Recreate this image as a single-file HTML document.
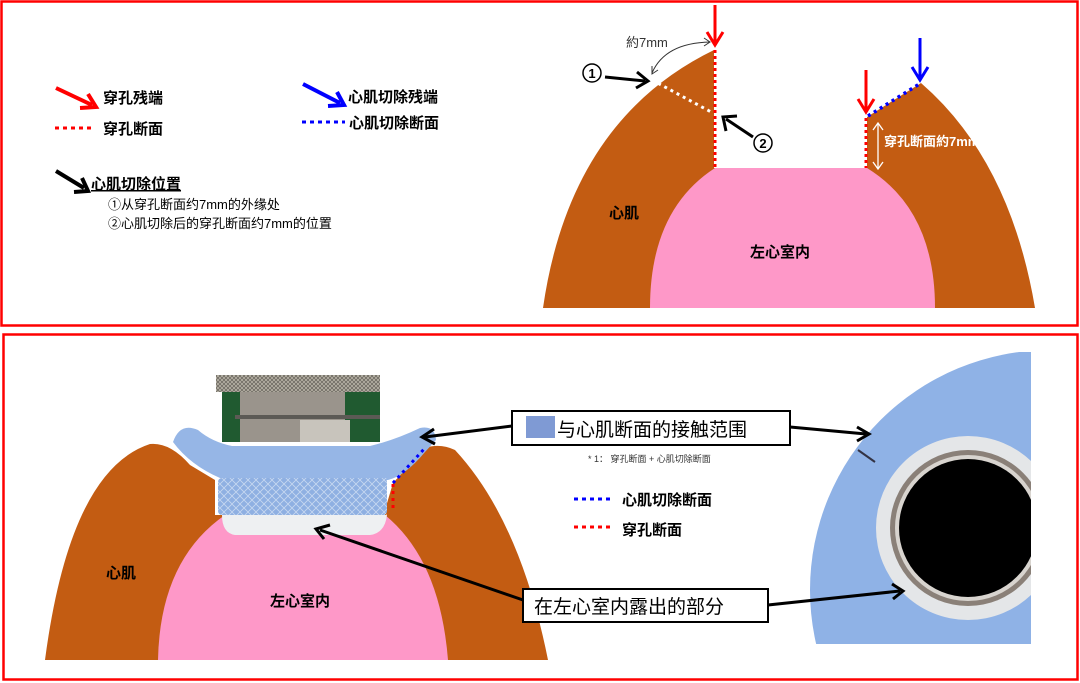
<!DOCTYPE html>
<html><head><meta charset="utf-8"><style>
html,body{margin:0;padding:0;background:#fff;width:1080px;height:683px;overflow:hidden;}
svg{display:block;font-family:"Liberation Sans","Noto Sans CJK SC",sans-serif;}
.b{font-weight:bold;}
</style></head><body>
<svg width="1080" height="683" viewBox="0 0 1080 683" xmlns="http://www.w3.org/2000/svg">
<defs>
<clipPath id="c1"><rect x="0" y="0" width="982" height="330"/></clipPath>
<clipPath id="c2"><rect x="800" y="352" width="231" height="292"/></clipPath>
<pattern id="mesh" width="8" height="8" patternUnits="userSpaceOnUse"><path d="M0,0 L8,8 M8,0 L0,8" stroke="#fff" stroke-opacity="0.5" stroke-width="0.8"/></pattern>
<pattern id="knurl" width="4" height="4" patternUnits="userSpaceOnUse"><rect width="4" height="4" fill="#b9b4a8"/><path d="M0,0 L4,4 M4,0 L0,4" stroke="#6e6a62" stroke-width="0.8"/></pattern>
</defs>
<rect x="1.5" y="1.5" width="1076" height="324" fill="none" stroke="#f00" stroke-width="2.5"/>
<rect x="3.5" y="334.5" width="1074" height="345" fill="none" stroke="#f00" stroke-width="2.5"/>

<path d="M543,308 Q570,120 714,50 L714,168 L867,168 L867,117 L921,83 Q1010,160 1035,308 Z" fill="#c35c12"/>
<path d="M650,308 Q650,210 715,168 L867,168 Q935,210 935,308 Z" fill="#fe98c8"/>
<line x1="652" y1="80" x2="713" y2="113" stroke="#fff" stroke-width="3" stroke-dasharray="3,4"/>
<line x1="715" y1="50" x2="715" y2="168" stroke="#f00" stroke-width="3" stroke-dasharray="3,3"/>
<line x1="866" y1="118" x2="866" y2="168" stroke="#f00" stroke-width="3" stroke-dasharray="3,3"/>
<line x1="868" y1="116" x2="921" y2="83" stroke="#00f" stroke-width="3.5" stroke-dasharray="3,4"/>
<line x1="715" y1="5" x2="715" y2="42" stroke="#f00" stroke-width="3"/>
<path d="M707,32 L715,45 L723,32" fill="none" stroke="#f00" stroke-width="3"/>
<line x1="866" y1="70" x2="866" y2="110" stroke="#f00" stroke-width="3"/>
<path d="M858,99 L866,112 L874,99" fill="none" stroke="#f00" stroke-width="3"/>
<line x1="920" y1="38" x2="920" y2="77" stroke="#00f" stroke-width="3"/>
<path d="M912,67 L920,80 L928,67" fill="none" stroke="#00f" stroke-width="3"/>
<path d="M652,73 Q665,43 710,42" fill="none" stroke="#333" stroke-width="1"/>
<path d="M652,66 L652,74 L658,70 M704,38 L710,42 L704,46" fill="none" stroke="#333" stroke-width="1"/>
<text x="626" y="47" font-size="13" fill="#333">約7mm</text>
<circle cx="592" cy="73" r="9" fill="#fff" stroke="#000" stroke-width="1.5"/><text x="592" y="78" font-size="13" text-anchor="middle" class="b">1</text>
<line x1="605" y1="77" x2="645" y2="81" stroke="#000" stroke-width="3"/>
<path d="M637,72 L648,81 L636,88" fill="none" stroke="#000" stroke-width="3"/>
<circle cx="763" cy="143" r="9" fill="#fff" stroke="#000" stroke-width="1.5"/><text x="763" y="148" font-size="13" text-anchor="middle" class="b">2</text>
<line x1="753" y1="137" x2="726" y2="119" stroke="#000" stroke-width="3"/>
<path d="M726,131 L723,117 L737,116" fill="none" stroke="#000" stroke-width="3"/>
<line x1="878" y1="124" x2="878" y2="168" stroke="#fff" stroke-width="1.3"/>
<path d="M873,130 L878,123 L883,130 M873,162 L878,169 L883,162" fill="none" stroke="#fff" stroke-width="1.3"/>
<g clip-path="url(#c1)"><text x="884" y="146" font-size="13" fill="#fff" class="b">穿孔断面約7mm</text></g>
<text x="609" y="218" font-size="15" class="b">心肌</text>
<text x="750" y="257" font-size="15" class="b">左心室内</text>

<line x1="56" y1="88" x2="92" y2="105" stroke="#f00" stroke-width="4"/>
<path d="M80,108 L96,107 L88,94" fill="none" stroke="#f00" stroke-width="4"/>
<text x="103" y="103" font-size="15" class="b">穿孔残端</text>
<line x1="55" y1="128" x2="92" y2="128" stroke="#f00" stroke-width="3" stroke-dasharray="4,4"/>
<text x="103" y="134" font-size="15" class="b">穿孔断面</text>
<line x1="303" y1="84" x2="340" y2="103" stroke="#00f" stroke-width="4"/>
<path d="M328,106 L344,105 L337,92" fill="none" stroke="#00f" stroke-width="4"/>
<text x="348" y="102" font-size="15" class="b">心肌切除残端</text>
<line x1="302" y1="122" x2="345" y2="122" stroke="#00f" stroke-width="3" stroke-dasharray="4,4"/>
<text x="349" y="128" font-size="15" class="b">心肌切除断面</text>
<line x1="56" y1="171" x2="84" y2="188" stroke="#000" stroke-width="4"/>
<path d="M74,192 L88,191 L82,178" fill="none" stroke="#000" stroke-width="4"/>
<text x="91" y="189" font-size="15" class="b" text-decoration="underline">心肌切除位置</text>
<text x="108" y="209" font-size="13">①从穿孔断面约7mm的外缘处</text>
<text x="108" y="228" font-size="13">②心肌切除后的穿孔断面约7mm的位置</text>

<g clip-path="url(#c2)">
<circle cx="1050" cy="590" r="240" fill="#8fb2e6"/>
<circle cx="968" cy="528" r="92" fill="#e4e6e8"/>
<circle cx="968" cy="528" r="78" fill="#8a8078"/>
<circle cx="968" cy="528" r="73" fill="#d8d4cf"/>
<circle cx="968" cy="528" r="69" fill="#000"/>
<path d="M858,450 L875,462" stroke="#334" stroke-width="2"/>
</g>

<path d="M45,660 Q70,470 150,444 Q170,442 190,465 L215,480 L215,515 L385,515 L385,510 L393,483 L425,448 Q440,443 455,450 Q520,520 548,660 Z" fill="#c35c12"/>
<path d="M158,660 Q160,560 225,515 L385,515 Q440,560 448,660 Z" fill="#fe98c8"/>
<rect x="216" y="375" width="164" height="17" fill="url(#knurl)"/>
<rect x="222" y="392" width="158" height="50" fill="#205a30"/>
<rect x="240" y="392" width="105" height="50" fill="#9a948c"/>
<rect x="300" y="420" width="50" height="22" fill="#c8c4bc"/>
<rect x="235" y="415" width="145" height="4" fill="#5c5a55"/>
<path d="M173,442 Q180,422 198,430 Q212,442 232,446 L370,446 Q395,440 420,428 Q435,425 436,440 L425,452 Q405,476 388,480 L220,478 Q190,465 173,442 Z" fill="#96b6e6"/>
<rect x="218" y="478" width="169" height="37" rx="4" fill="#8fb0e2"/>
<rect x="218" y="478" width="169" height="37" fill="url(#mesh)"/>
<path d="M222,515 L387,515 Q385,533 370,535 L235,535 Q222,533 222,515 Z" fill="#eef0f2"/>
<line x1="393" y1="483" x2="425" y2="448" stroke="#00f" stroke-width="3" stroke-dasharray="3,4"/>
<line x1="393" y1="484" x2="393" y2="512" stroke="#f00" stroke-width="3" stroke-dasharray="3,4"/>
<text x="106" y="578" font-size="15" class="b">心肌</text>
<text x="270" y="606" font-size="15" class="b">左心室内</text>

<rect x="512" y="411" width="278" height="34" fill="#fff" stroke="#000" stroke-width="2"/>
<rect x="526" y="416" width="29" height="22" fill="#7f9ad4"/>
<text x="557" y="436" font-size="19">与心肌断面的接触范围</text>
<line x1="512" y1="426" x2="425" y2="437" stroke="#000" stroke-width="3"/>
<path d="M434,429 L422,437 L435,444" fill="none" stroke="#000" stroke-width="3"/>
<line x1="790" y1="427" x2="866" y2="434" stroke="#000" stroke-width="3"/>
<path d="M857,427 L869,434 L857,441" fill="none" stroke="#000" stroke-width="3"/>
<text x="588" y="462" font-size="9" fill="#333">* 1：  穿孔断面 + 心肌切除断面</text>
<line x1="574" y1="499" x2="612" y2="499" stroke="#00f" stroke-width="3" stroke-dasharray="4,4"/>
<text x="622" y="505" font-size="15" class="b">心肌切除断面</text>
<line x1="574" y1="527" x2="612" y2="527" stroke="#f00" stroke-width="3" stroke-dasharray="4,4"/>
<text x="622" y="535" font-size="15" class="b">穿孔断面</text>
<rect x="523" y="589" width="245" height="33" fill="#fff" stroke="#000" stroke-width="2"/>
<text x="534" y="613" font-size="19">在左心室内露出的部分</text>
<line x1="523" y1="600" x2="320" y2="530" stroke="#000" stroke-width="3"/>
<path d="M324,539 L316,529 L330,525" fill="none" stroke="#000" stroke-width="3"/>
<line x1="768" y1="605" x2="900" y2="591" stroke="#000" stroke-width="3"/>
<path d="M892,584 L903,591 L893,599" fill="none" stroke="#000" stroke-width="3"/>
</svg>
</body></html>
